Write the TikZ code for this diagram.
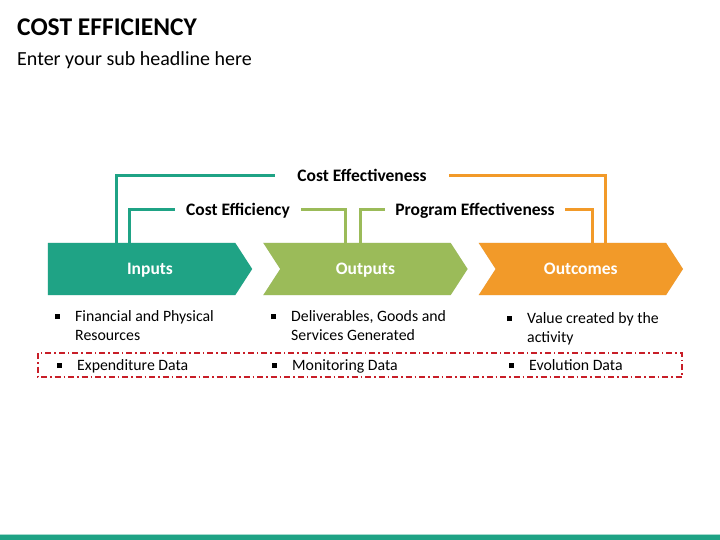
\documentclass[tikz,border=0pt]{standalone}
\usepackage{fontspec}
\setmainfont{Carlito}
\definecolor{colinputs}{RGB}{31,163,133}
\definecolor{coloutputs}{RGB}{155,187,89}
\definecolor{coloutcomes}{RGB}{242,154,41}
\definecolor{colbox}{RGB}{200,30,40}
\usetikzlibrary{
	positioning,
	backgrounds
}
\newcommand{\sqbullet}{\raisebox{2pt}{\rule{5pt}{5pt}}}
\newcommand{\sqitem}[1]{\makebox[20pt][l]{\sqbullet}\begin{tabular}[t]{@{}l@{}}#1\end{tabular}}
\tikzset{
	chevron/.style={minimum width=204pt, minimum height=52pt, inner sep=0pt, text=white, text height=11pt, text depth=0pt, font=\fontsize{17.5}{20}\selectfont\bfseries},
	link/.style={line width=3pt},
	linklabel/.style={inner ysep=0pt, text height=11pt, text depth=0pt, font=\fontsize{17.5}{20}\selectfont\bfseries},
	bulletitem/.style={anchor=base west, inner sep=0pt, font=\fontsize{15.8}{19}\selectfont},
	databox/.style={draw=colbox, line width=1.2pt, dash pattern=on 6pt off 3pt on 1.5pt off 3pt}
}

\begin{document}
\begin{tikzpicture}[x=1pt, y=-1pt]
	\useasboundingbox (0,0) rectangle (720,540);

	\node[anchor=base west, inner sep=0pt, font=\fontsize{25.5}{30}\selectfont\bfseries] (title) at (17,36) {COST EFFICIENCY};
	\node[anchor=base west, inner sep=0pt, font=\fontsize{20}{24}\selectfont] (subtitle) at (17,66) {Enter your sub headline here};

	\node[chevron] (inputs) at (150,269) {Inputs};
	\node[chevron] (outputs) [right=11pt of inputs] {Outputs};
	\node[chevron] (outcomes) [right=11pt of outputs] {Outcomes};

	\begin{pgfonlayer}{background}
		\foreach \chev/\col in {outputs/coloutputs, outcomes/coloutcomes} {
			\fill[black, opacity=0.12, yshift=-2pt]
				(\chev.north west) -- ([xshift=-17pt]\chev.north east) -- (\chev.east)
				-- ([xshift=-17pt]\chev.south east) -- (\chev.south west) -- ([xshift=17pt]\chev.west) -- cycle;
			\fill[\col]
				(\chev.north west) -- ([xshift=-17pt]\chev.north east) -- (\chev.east)
				-- ([xshift=-17pt]\chev.south east) -- (\chev.south west) -- ([xshift=17pt]\chev.west) -- cycle;
		}
		\fill[black, opacity=0.12, yshift=-2pt]
			(inputs.north west) -- ([xshift=-17pt]inputs.north east) -- (inputs.east)
			-- ([xshift=-17pt]inputs.south east) -- (inputs.south west) -- cycle;
		\fill[colinputs]
			(inputs.north west) -- ([xshift=-17pt]inputs.north east) -- (inputs.east)
			-- ([xshift=-17pt]inputs.south east) -- (inputs.south west) -- cycle;
	\end{pgfonlayer}

	% brackets above the chevrons
	\node[linklabel, inner xsep=22pt] (effect) at (362,176) {Cost Effectiveness};
	\node[linklabel, inner xsep=11pt] (efficiency) at (238,210) {Cost Efficiency};
	\node[linklabel, inner xsep=10pt] (program) at (475,210) {Program Effectiveness};

	\draw[link, colinputs] ([xshift=69pt]inputs.north west) |- (effect.west);
	\draw[link, coloutcomes] ([xshift=127pt]outcomes.north west) |- (effect.east);
	\draw[link, colinputs] ([xshift=82pt]inputs.north west) |- (efficiency.west);
	\draw[link, coloutputs] ([xshift=82pt]outputs.north west) |- (efficiency.east);
	\draw[link, coloutputs] ([xshift=97pt]outputs.north west) |- (program.west);
	\draw[link, coloutcomes] ([xshift=114pt]outcomes.north west) |- (program.east);

	% bullet lists
	\node[bulletitem] (resources) at (55,321) {\sqitem{Financial and Physical\\Resources}};
	\node[bulletitem] (goods) at (271,321) {\sqitem{Deliverables, Goods and\\Services Generated}};
	\node[bulletitem] (value) at (507,323) {\sqitem{Value created by the\\activity}};

	\draw[databox] (38,353) rectangle (682,377);
	\node[bulletitem] (expenditure) at (57,370) {\sqitem{Expenditure Data}};
	\node[bulletitem] (monitoring) at (272,370) {\sqitem{Monitoring Data}};
	\node[bulletitem] (evolution) at (509,370) {\sqitem{Evolution Data}};

	% footer bar
	\fill[colinputs!40] (0,533.5) rectangle (720,535);
	\fill[colinputs] (0,535) rectangle (720,540);
\end{tikzpicture}
\end{document}
